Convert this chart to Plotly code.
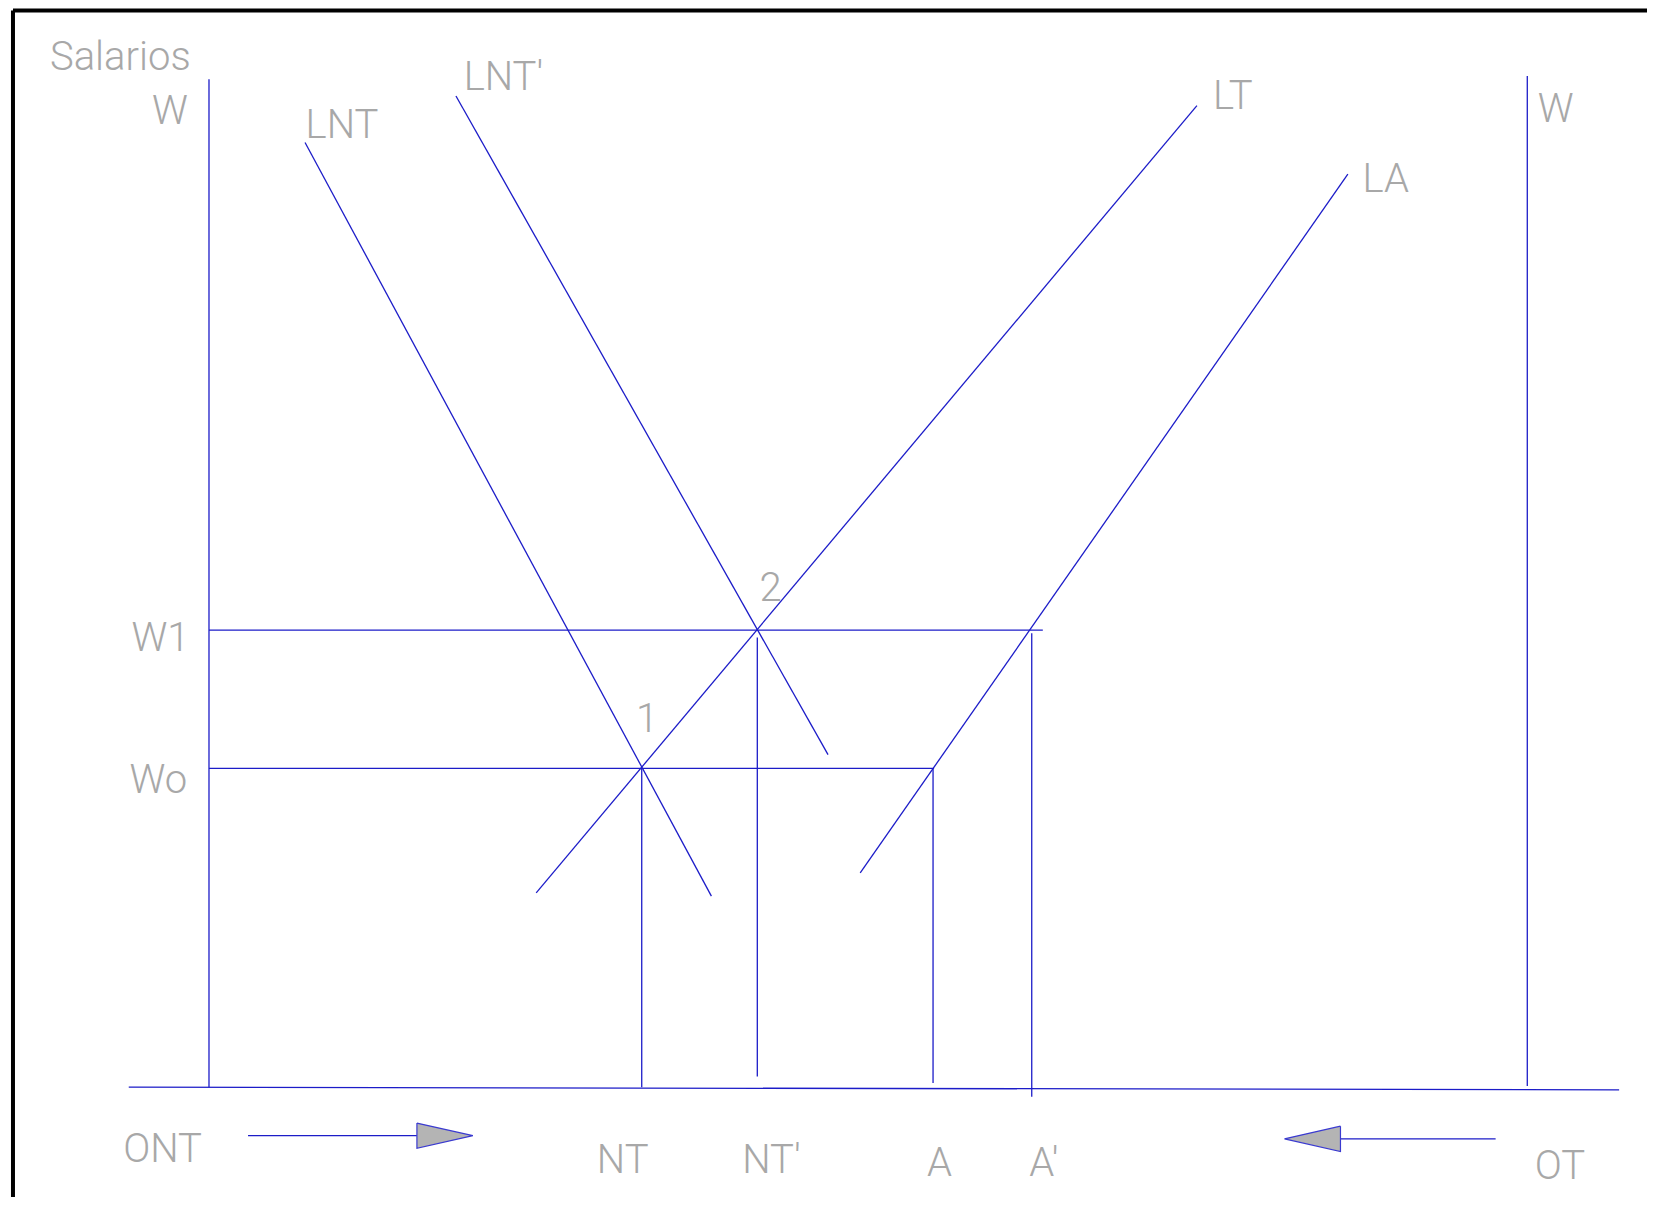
import plotly.graph_objects as go

# all coordinates are in the units of the drawing (1568 x 1142 sheet)
SHEET_W, SHEET_H = 1568, 1142
PAGE_W, PAGE_H = 1655, 1205
BODY_MARGIN = 8

LINE_BLUE = "#1c1cc8"
TEXT_GREY = "#a8a8a8"
FONT = "Roboto, Lato, Open Sans, sans-serif"

# curves
LNT_X, LNT_Y = [289, 674], [135, 849]
LNT2_X, LNT2_Y = [432, 784.5], [91, 715]
LT_X, LT_Y = [1134, 508], [100, 846]
LA_X, LA_Y = [1277, 815], [165, 827]

# wage levels and their horizontal extents
WAGE_LEVELS = [597, 728]
WAGE_ENDS = [988, 885]

# drop lines to the quantity axis
DROP_X = [608, 717.5, 884, 977.5]
DROP_TOP = [728, 604, 728, 600]
DROP_BOTTOM = [1030, 1020, 1026, 1039]

# axes
LEFT_AXIS_X, LEFT_AXIS_Y = [198, 198], [75, 1030]
RIGHT_AXIS_X, RIGHT_AXIS_Y = [1447, 1447], [72, 1029]
BASE_X, BASE_Y = [122, 1534], [1030, 1032.5]

# direction arrows: shaft start, head base, tip, level
ARROW_ONT = [235, 395, 448, 1076]
ARROW_OT = [1417, 1270, 1217, 1079]
HEAD_HALF = 12

LABELS = ["Salarios", "W", "LNT", "LNT′", "LT", "LA", "W", "2", "W1", "1", "Wo",
          "ONT", "NT", "NT′", "A", "A′", "OT"]
LABEL_X = [114, 161, 324, 477, 1168, 1313, 1474, 730, 152, 613, 150,
           154, 590, 731, 890, 989, 1478]
LABEL_Y = [57, 108, 121, 76, 94, 172, 106, 560, 607, 684, 742,
           1091, 1102, 1102, 1105, 1105, 1108]

fig = go.Figure()


def seg(x, y, color=LINE_BLUE, width=1.3):
    fig.add_trace(go.Scatter(x=x, y=y, mode="lines", line={"color": color, "width": width},
                             hoverinfo="skip", showlegend=False))


for xs, ys in [(LNT_X, LNT_Y), (LNT2_X, LNT2_Y), (LT_X, LT_Y), (LA_X, LA_Y),
               (LEFT_AXIS_X, LEFT_AXIS_Y), (RIGHT_AXIS_X, RIGHT_AXIS_Y), (BASE_X, BASE_Y)]:
    seg(xs, ys)

for level, end in zip(WAGE_LEVELS, WAGE_ENDS):
    seg([LEFT_AXIS_X[0], end], [level, level])

for x, top, bottom in zip(DROP_X, DROP_TOP, DROP_BOTTOM):
    seg([x, x], [top, bottom])

for start, base, tip, level in [ARROW_ONT, ARROW_OT]:
    seg([start, base], [level, level])
    fig.add_trace(go.Scatter(
        x=[base, tip, base, base], y=[level - HEAD_HALF, level, level + HEAD_HALF, level - HEAD_HALF],
        mode="lines", fill="toself", fillcolor="#b4b4b4",
        line={"color": "#3a3ad0", "width": 1.2}, hoverinfo="skip", showlegend=False))

# sheet frame (left and top edges only)
seg([12.3, 12.3], [10, SHEET_H + 20], color="#000000", width=4)
seg([12.3, SHEET_W + 20], [10, 10], color="#000000", width=4)

fig.add_trace(go.Scatter(
    x=LABEL_X, y=LABEL_Y, mode="text", text=LABELS, textposition="middle center",
    textfont={"family": FONT, "size": 40, "color": TEXT_GREY, "weight": 300},
    hoverinfo="skip", showlegend=False))

scale = PAGE_W / SHEET_W
fig.update_layout(
    width=PAGE_W - 2 * BODY_MARGIN,
    height=PAGE_H - 2 * BODY_MARGIN,
    margin={"l": 0, "r": 0, "t": 0, "b": 0},
    paper_bgcolor="white",
    plot_bgcolor="white",
    xaxis={"range": [BODY_MARGIN / scale, (PAGE_W - BODY_MARGIN) / scale],
           "visible": False, "fixedrange": True},
    yaxis={"range": [(PAGE_H - BODY_MARGIN) / scale, BODY_MARGIN / scale],
           "visible": False, "fixedrange": True},
)

fig.write_html("out.html")
